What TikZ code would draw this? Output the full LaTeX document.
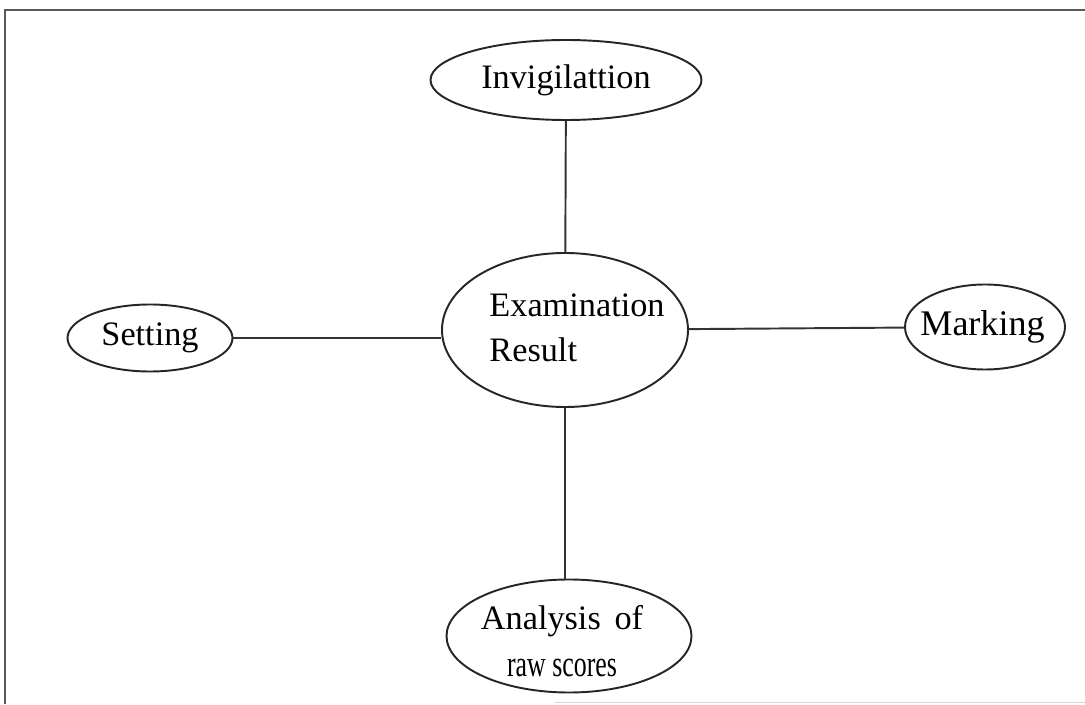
\documentclass[tikz,border=0pt]{standalone}
\usepackage{fontspec}
\usepackage{graphicx}
\setmainfont{Liberation Serif}
\usetikzlibrary{shapes.geometric}
\begin{document}
\begin{tikzpicture}
				\tikzset{bulle/.style={ellipse, draw=black!85, line width=1.1pt, inner sep=0cm, font=\fontsize{19.5}{25}\selectfont}, lien/.style={draw=black!80, line width=1.1pt}, cadre/.style={draw=black!65, line width=1.6pt}};
				\useasboundingbox (0,0) rectangle (21.7,14.08);
				\draw[cadre] (0.1,0) -- (0.1,13.88) -- (21.7,13.88);
				\draw[black!15, line width=0.6pt] (11.1,0.03) -- (21.7,0.03);

				\node[bulle, minimum width=5.42cm, minimum height=1.6cm] (inv) at (11.32, 12.48) {Invigilattion};
				\node[bulle, minimum width=4.92cm, minimum height=3.08cm] (exam) at (11.3, 7.48) {\makebox[0pt]{\hspace*{0.48cm}\begin{tabular}{@{}l@{}}Examination\\[0.02cm]Result\end{tabular}}};
				\node[bulle, minimum width=3.3cm, minimum height=1.34cm] (set) at (3.0, 7.32) {Setting};
				\node[bulle, minimum width=3.2cm, minimum height=1.7cm] (mark) at (19.7, 7.54) {\makebox[0pt]{\hspace*{-0.1cm}\fontsize{20.5}{25}\selectfont Marking}};
				\node[bulle, minimum width=4.9cm, minimum height=2.26cm] (ana) at (11.38, 1.36) {\makebox[0pt]{\hspace*{-0.28cm}\smash{\raisebox{-0.35cm}{\begin{tabular}{@{}c@{}}Analysis\hspace{0.4em}of\\[0.05cm]\scalebox{0.7}[1]{\fontsize{21}{25}\selectfont raw scores}\end{tabular}}}}};

				\draw[lien] (inv) -- (exam);
				\draw[lien] (exam.south) -- (exam.south |- ana.north);
				\draw[lien] (set.east) -- (set.east -| exam.west);
				\draw[lien] (exam) -- (mark);
			\end{tikzpicture}
\end{document}
